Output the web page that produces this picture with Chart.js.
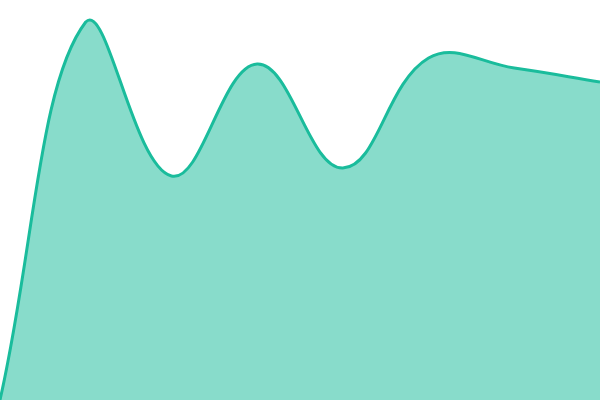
<!DOCTYPE html>
<html><head><meta charset="utf-8">
<script src="https://cdn.jsdelivr.net/npm/chart.js@4"></script>
<style>html,body{margin:0;padding:0;background:#fff}#c{display:block}</style>
</head><body>
<div style="width:600px;height:400px"><canvas id="c"></canvas></div>
<script>
const categories = ['1','2','3','4','5','6','7','8'];
const seriesValues = [0, 94.5, 56, 84, 58, 85.5, 83, 79.5];
new Chart(document.getElementById('c'), {
  type: 'line',
  data: { labels: categories, datasets: [{
    data: seriesValues, fill: true, tension: 0.4,
    borderColor: '#1abc9c', backgroundColor: 'rgba(26,188,156,0.52)',
    borderWidth: 3, pointRadius: 0
  }]},
  options: {
    responsive: true, maintainAspectRatio: false, animation: false,
    layout: { padding: 0 },
    plugins: { legend: { display: false }, tooltip: { enabled: false } },
    scales: { x: { display: false }, y: { display: false, min: 0, max: 100 } }
  }
});
</script>
</body></html>
